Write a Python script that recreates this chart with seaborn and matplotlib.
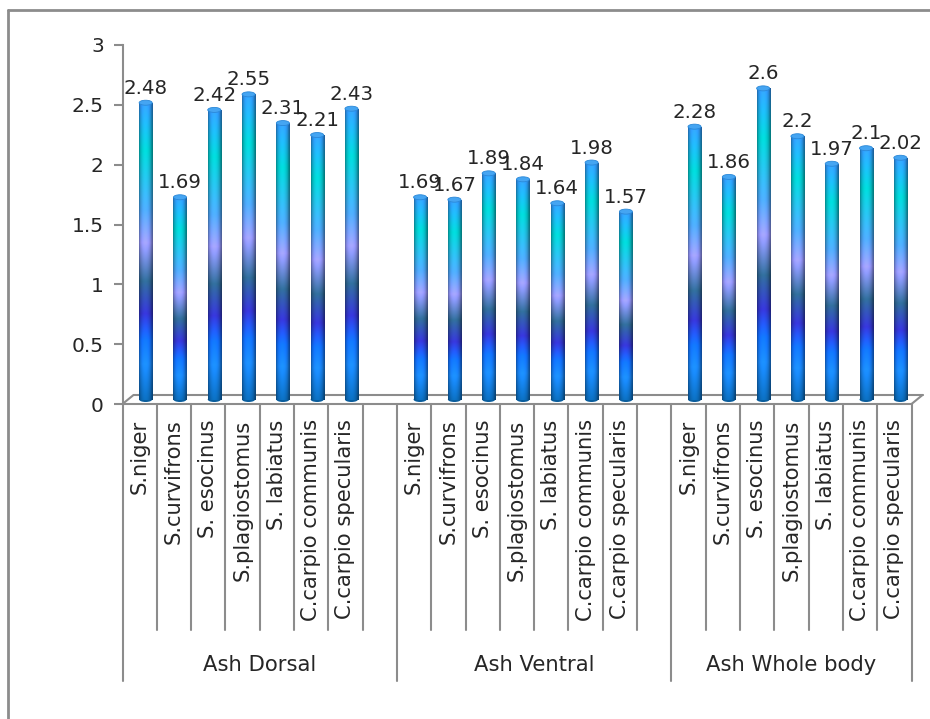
import numpy as np
import pandas as pd
import matplotlib
matplotlib.use("Agg")
import matplotlib.pyplot as plt
import matplotlib.transforms as mtransforms
from matplotlib.colors import LinearSegmentedColormap
from matplotlib.patches import Ellipse
from matplotlib.lines import Line2D
import seaborn as sns

# ---- data -------------------------------------------------------------
groups = ["Ash Dorsal", "Ash Ventral", "Ash Whole body"]
species = ["S.niger", "S.curvifrons", "S. esocinus", "S.plagiostomus",
           "S. labiatus", "C.carpio communis", "C.carpio specularis"]
ash_dorsal = [2.48, 1.69, 2.42, 2.55, 2.31, 2.21, 2.43]
ash_ventral = [1.69, 1.67, 1.89, 1.84, 1.64, 1.98, 1.57]
ash_whole_body = [2.28, 1.86, 2.6, 2.2, 1.97, 2.1, 2.02]
y_ticks = [0, 0.5, 1, 1.5, 2, 2.5, 3]
y_tick_labels = ["0", "0.5", "1", "1.5", "2", "2.5", "3"]

series = {"Ash Dorsal": ash_dorsal, "Ash Ventral": ash_ventral,
          "Ash Whole body": ash_whole_body}

# one slot per species, with an empty slot between groups
order = []
rows = []
for gi, g in enumerate(groups):
    for sp, v in zip(species, series[g]):
        key = f"{g}|{sp}"
        order.append(key)
        rows.append({"group": g, "species": sp, "slot": key, "value": v})
    if gi < len(groups) - 1:
        order.append(f"gap{gi}")
df = pd.DataFrame(rows)

# ---- style --------------------------------------------------------------
sns.set_style("white")
plt.rcParams["font.family"] = ["DejaVu Sans"]
GRAY = "#8c8c8c"
TEXT = "#262626"

W, H = 930, 719
fig = plt.figure(figsize=(W / 100, H / 100), dpi=100)

# axes placed in pixel terms: x from 122.5 to 911.5, y from 404 (0) to 45 (3)
ax_l, ax_r, ax_b, ax_t = 122.5, 911.5, 404, 45
ax = fig.add_axes([ax_l / W, 1 - ax_b / H, (ax_r - ax_l) / W, (ax_b - ax_t) / H])

sns.barplot(data=df, x="slot", y="value", order=order, width=0.38,
            color="#3399ff", errorbar=None, ax=ax, zorder=3)

ax.set_xlim(-0.5, len(order) - 0.5)
ax.set_ylim(0, 3)

# depth offsets for the pseudo-3D look
bar_off = mtransforms.ScaledTranslation(6 / 100, 4.5 / 100, fig.dpi_scale_trans)
floor_off = mtransforms.ScaledTranslation(11 / 100, 9 / 100, fig.dpi_scale_trans)

# vertical "peacock" gradient (bottom -> top)
stops = [(0.00, "#0b68b4"), (0.12, "#1a86f5"), (0.20, "#1170ff"),
         (0.29, "#3333cc"), (0.40, "#2e6792"), (0.53, "#9999ff"),
         (0.64, "#4aa2f2"), (0.84, "#00cccc"), (1.00, "#3399ff")]
cmap = LinearSegmentedColormap.from_list("peacock", stops)
nv, nh = 256, 64
vcol = cmap(np.linspace(0, 1, nv))[:, :3]
t = np.linspace(0, 1, nh)
shade = 0.62 + 0.48 * np.sin(np.pi * np.clip(t * 1.08, 0, 1)) ** 0.6
img = np.clip(vcol[:, None, :] * shade[None, :, None], 0, 1)

for p in list(ax.patches):
    x0, y0 = p.get_x(), p.get_y()
    w, h = p.get_width(), p.get_height()
    if h <= 0:
        continue
    p.set_transform(ax.transData + bar_off)
    p.set_facecolor("none")
    p.set_edgecolor("none")
    im = ax.imshow(img, extent=[x0, x0 + w, y0, y0 + h], origin="lower",
                   aspect="auto", interpolation="bilinear", zorder=3)
    im.set_transform(ax.transData + bar_off)
    im.set_clip_path(p)
    cap_h = 5 / 119.4
    bottom = Ellipse((x0 + w / 2, 0), w, cap_h, facecolor="#0a5e9e",
                     edgecolor="none", zorder=2.9, transform=ax.transData + bar_off)
    ax.add_patch(bottom)
    top = Ellipse((x0 + w / 2, y0 + h), w, cap_h, facecolor="#45a5f2",
                  edgecolor="#2a88d8", linewidth=0.6, zorder=4,
                  transform=ax.transData + bar_off)
    ax.add_patch(top)
    ax.annotate(f"{h:g}", xy=(x0 + w / 2, y0 + h), xycoords=ax.transData + bar_off,
                xytext=(0, 5), textcoords="offset pixels", ha="center", va="bottom",
                fontsize=14.2, color=TEXT, zorder=5)

ax.set_xlim(-0.5, len(order) - 0.5)
ax.set_ylim(0, 3)

# floor of the 3D plot area
n = len(order)
fx = [-0.5, n - 0.5]
ax.plot(fx, [0, 0], color=GRAY, lw=1.5, clip_on=False, zorder=2)
ax.plot(fx, [0, 0], color=GRAY, lw=1.5, clip_on=False, zorder=2,
        transform=ax.transData + floor_off)
for xe in fx:
    ax.annotate("", xy=(xe, 0), xycoords=ax.transData + floor_off,
                xytext=(xe, 0), textcoords=ax.transData,
                arrowprops=dict(arrowstyle="-", color=GRAY, lw=1.5,
                                shrinkA=0, shrinkB=0))

# axes styling
for s in ["top", "right", "bottom"]:
    ax.spines[s].set_visible(False)
ax.spines["left"].set_color(GRAY)
ax.spines["left"].set_linewidth(1.5)
ax.set_yticks(y_ticks, y_tick_labels)
ax.tick_params(axis="y", length=6.5, width=1.5, color=GRAY, pad=7,
               labelsize=14.5, labelcolor=TEXT, left=True)
ax.set_ylabel("")
ax.set_xlabel("")

# category tick labels (blank for the gap slots)
tick_lbls = [k.split("|")[1] if "|" in k else "" for k in order]
ax.set_xticks(range(n), tick_lbls, rotation=90)
ax.tick_params(axis="x", length=0, pad=11, labelsize=15.2, labelcolor=TEXT)

# separators of the two-level category axis
def yfrac(px):
    return (ax_b - px) / (ax_b - ax_t)

bx = mtransforms.blended_transform_factory(ax.transData, ax.transAxes)
group_edges = [0, 8, 16, n]
for k in range(n + 1):
    y_end = yfrac(681) if k in group_edges else yfrac(630)
    ax.add_line(Line2D([k - 0.5, k - 0.5], [0, y_end], transform=bx,
                       color=GRAY, lw=1.5, clip_on=False))

for gi, g in enumerate(groups):
    a, b = group_edges[gi], group_edges[gi + 1]
    ax.text((a + b) / 2 - 0.5, yfrac(665), g, transform=bx, ha="center",
            va="center", fontsize=15.2, color=TEXT)

# outer chart frame
fig.add_artist(Line2D([8 / W, 8 / W], [0, 1 - 10 / H], transform=fig.transFigure,
                      color=GRAY, lw=2))
fig.add_artist(Line2D([8 / W, 1], [1 - 10 / H, 1 - 10 / H], transform=fig.transFigure,
                      color=GRAY, lw=2))

fig.savefig("out.png", dpi=100)
